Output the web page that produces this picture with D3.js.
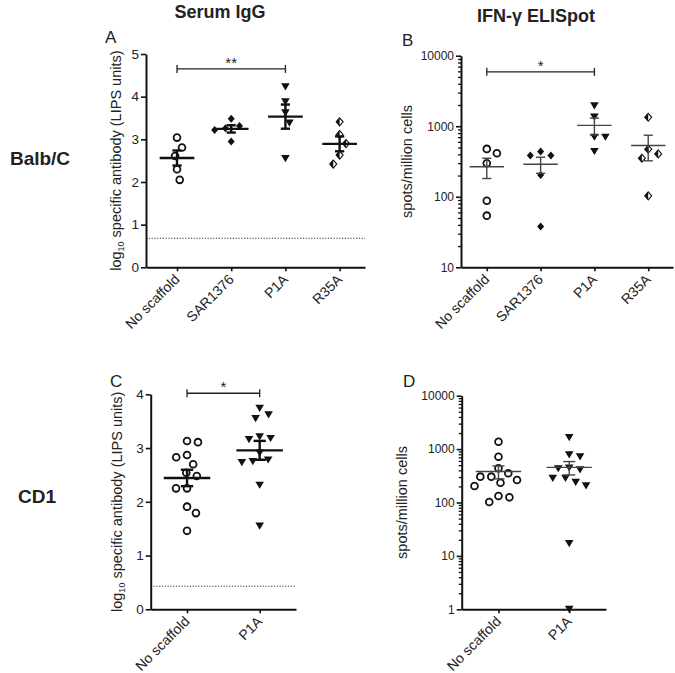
<!DOCTYPE html>
<html>
<head>
<meta charset="utf-8">
<script src="https://cdn.jsdelivr.net/npm/d3@7"></script>
<style>
  body { margin: 0; background: #fff; }
  text { font-family: "Liberation Sans", Arial, sans-serif; }
</style>
</head>
<body>
<script>
// groups on the x axis
var topGroups = ["No scaffold", "SAR1376", "P1A", "R35A"];
var bottomGroups = ["No scaffold", "P1A"];

// A - Balb/C serum IgG (log10 LIPS units)
var balbIgGNoScaffold = [3.04, 2.81, 2.61, 2.30, 2.05];
var balbIgGSar1376 = [3.31, 2.95, 3.26, 3.22, 3.48];
var balbIgGP1A = [4.23, 3.88, 3.62, 3.38, 2.55];
var balbIgGR35A = [3.41, 3.11, 2.90, 2.63, 2.42];

// B - Balb/C IFN-g ELISpot (spots/million cells)
var balbSpotsNoScaffold = [477, 414, 299, 88, 54];
var balbSpotsSar1376 = [437, 384, 384, 204, 38];
var balbSpotsP1A = [1950, 1350, 700, 700, 440];
var balbSpotsR35A = [1340, 405, 472, 352, 103];

// C - CD1 serum IgG
var cd1IgGNoScaffold = [3.13, 3.11, 2.87, 2.83, 2.70, 2.54, 2.48, 2.25, 2.25, 1.91, 1.79, 1.46];
var cd1IgGP1A = [3.74, 3.62, 3.55, 3.21, 3.18, 3.16, 2.91, 2.78, 2.75, 2.73, 2.31, 1.55];

// D - CD1 IFN-g ELISpot
var cd1SpotsNoScaffold = [1377, 721, 437, 352, 305, 305, 264, 235, 204, 132, 125, 102];
var cd1SpotsP1A = [1650, 720, 780, 430, 410, 445, 285, 205, 240, 285, 17, 1];

// axis ticks
var ticksA = [0, 1, 2, 3, 4, 5];
var ticksB = [10, 100, 1000, 10000];
var ticksC = [0, 1, 2, 3, 4];
var ticksD = [1, 10, 100, 1000, 10000];

// detection cut-off (dotted lines)
var cutoffA = 0.68;
var cutoffC = 0.43;

// significance brackets: from, to, height, label
var sigA = ["No scaffold", "P1A", 4.65, "**"];
var sigB = ["No scaffold", "P1A", 5900, "*"];
var sigC = ["No scaffold", "P1A", 4.02, "*"];

var markerFor = {"No scaffold": "circle", "SAR1376": "diamond", "P1A": "triangle", "R35A": "halfDiamond"};

var svg = d3.select("body").append("svg")
    .attr("width", 675)
    .attr("height", 673);

// simple beeswarm: smallest horizontal offset that doesn't hit placed points
function swarm(ys, d) {
  var order = d3.range(ys.length).sort(function(a, b) { return ys[a] - ys[b]; });
  var xs = new Array(ys.length);
  var placed = [];
  var flip = 1;
  order.forEach(function(i) {
    var blocked = [];
    placed.forEach(function(j) {
      var dy = Math.abs(ys[i] - ys[j]);
      if (dy < d) {
        var w = Math.sqrt(d * d - dy * dy);
        blocked.push([xs[j] - w, xs[j] + w]);
      }
    });
    var cands = [0];
    blocked.forEach(function(b) { cands.push(b[0], b[1]); });
    var ok = cands.filter(function(c) {
      return blocked.every(function(b) { return c <= b[0] + 1e-6 || c >= b[1] - 1e-6; });
    });
    var best = d3.min(ok, function(c) { return Math.abs(c); });
    var near = ok.filter(function(c) { return Math.abs(c) - best < 0.5; });
    var pick = near.find(function(c) { return c * flip > 0; });
    if (pick === undefined) pick = near[0];
    else flip = -flip;
    xs[i] = pick;
    placed.push(i);
  });
  return xs;
}

function drawMarker(g, kind, cx, cy) {
  if (kind == "circle") {
    g.append("circle").attr("cx", cx).attr("cy", cy).attr("r", 3.4)
      .attr("fill", "#fff").attr("stroke", "#111").attr("stroke-width", 1.8);
  } else if (kind == "diamond") {
    g.append("path").attr("d", "M0,-4L3.5,0L0,4L-3.5,0Z")
      .attr("transform", `translate(${cx},${cy})`).attr("fill", "#111");
  } else if (kind == "triangle") {
    g.append("path").attr("d", "M-4.3,-3.5L4.3,-3.5L0,3.7Z")
      .attr("transform", `translate(${cx},${cy})`).attr("fill", "#111");
  } else {
    var m = g.append("g").attr("transform", `translate(${cx},${cy})`);
    m.append("path").attr("d", "M0,-4L3.5,0L0,4L-3.5,0Z")
      .attr("fill", "#fff").attr("stroke", "#111").attr("stroke-width", 1.1);
    m.append("path").attr("d", "M0,-4L-3.5,0L0,4Z").attr("fill", "#111");
  }
}

function drawPanel(p) {
  var g = svg.append("g");

  var x = d3.scalePoint()
    .domain(p.cats)
    .range([p.left, p.right])
    .padding(p.pad)
    .align(p.align);
  var step = x.step();

  var y = (p.log ? d3.scaleLog() : d3.scaleLinear())
    .domain(p.domain)
    .range([p.bottom, p.top]);

  if (p.cutoff != null) {
    g.append("line")
      .attr("x1", p.left).attr("x2", p.right)
      .attr("y1", y(p.cutoff)).attr("y2", y(p.cutoff))
      .attr("stroke", "#333").attr("stroke-width", 1)
      .attr("stroke-dasharray", "1.2,1.6");
  }

  // y axis
  if (p.log) {
    var minor = [];
    for (var k = 0; k < p.ticks.length - 1; k++) {
      for (var m = 2; m < 10; m++) minor.push(p.ticks[k] * m);
    }
    g.append("g")
      .attr("transform", `translate(${p.left},0)`)
      .call(d3.axisLeft(y).tickValues(minor).tickSize(3).tickSizeOuter(0).tickFormat(""))
      .call(function(a) { a.select(".domain").remove(); })
      .selectAll(".tick line").attr("stroke", "#111").attr("stroke-width", 1.3);
  }
  var ya = g.append("g")
    .attr("transform", `translate(${p.left},0)`)
    .call(d3.axisLeft(y).tickValues(p.ticks).tickSize(5).tickSizeOuter(0)
      .tickPadding(2).tickFormat(d3.format("d")));
  ya.select(".domain").attr("stroke", "#111").attr("stroke-width", 2);
  ya.selectAll(".tick line").attr("stroke", "#111").attr("stroke-width", 1.6);
  ya.selectAll("text")
    .attr("font-family", "Liberation Sans, Arial, sans-serif")
    .attr("font-size", p.tickFont).attr("fill", "#222");

  // x axis
  var xa = g.append("g")
    .attr("transform", `translate(0,${p.bottom})`)
    .call(d3.axisBottom(x).tickSize(4).tickSizeOuter(0));
  xa.select(".domain").attr("stroke", "#111").attr("stroke-width", 2);
  xa.selectAll(".tick line").attr("stroke", "#111").attr("stroke-width", 1.6);
  xa.selectAll("text")
    .attr("x", 0).attr("y", 0).attr("dy", 0)
    .attr("transform", "translate(3,13) rotate(-45)")
    .style("text-anchor", "end")
    .attr("font-family", "Liberation Sans, Arial, sans-serif")
    .attr("font-size", 14).attr("fill", "#222");

  // y title
  var yt = g.append("text")
    .attr("transform", `translate(${p.titleX},${(p.top + p.bottom) / 2}) rotate(-90)`)
    .attr("text-anchor", "middle")
    .attr("font-size", 14.5)
    .attr("fill", "#222");
  if (p.log) {
    yt.text("spots/million cells");
  } else {
    yt.append("tspan").text("log");
    yt.append("tspan").attr("font-size", 9).attr("dy", 3).text("10");
    yt.append("tspan").attr("dy", -3).text(" specific antibody (LIPS units)");
  }

  // points + mean +/- sem
  p.cats.forEach(function(cat, i) {
    var vals = p.data[i];
    var cx = x(cat);
    var ys = vals.map(function(v) { return y(v); });
    var offs = swarm(ys, 11);
    vals.forEach(function(v, j) {
      drawMarker(g, markerFor[cat], cx + offs[j], ys[j]);
    });

    var mean = d3.mean(vals);
    var sem = d3.deviation(vals) / Math.sqrt(vals.length);
    var lw = p.log ? 1.4 : 2.4;
    var col = p.log ? "#444" : "#111";
    var meanW = step * 0.64 / 2;
    var capW = step * 0.085;
    var err = g.append("g").attr("stroke", col).attr("stroke-width", lw);
    err.append("line")
      .attr("x1", cx - meanW).attr("x2", cx + meanW)
      .attr("y1", y(mean)).attr("y2", y(mean));
    err.append("line")
      .attr("x1", cx).attr("x2", cx)
      .attr("y1", y(mean - sem)).attr("y2", y(mean + sem));
    [mean - sem, mean + sem].forEach(function(e) {
      err.append("line")
        .attr("x1", cx - capW).attr("x2", cx + capW)
        .attr("y1", y(e)).attr("y2", y(e));
    });
  });

  // significance bracket
  if (p.sig) {
    var sy = y(p.sig[2]);
    var x1 = x(p.sig[0]), x2 = x(p.sig[1]);
    var s = g.append("g").attr("stroke", "#222").attr("stroke-width", 1.3);
    s.append("line").attr("x1", x1).attr("x2", x2).attr("y1", sy).attr("y2", sy);
    s.append("line").attr("x1", x1).attr("x2", x1).attr("y1", sy - 4).attr("y2", sy + 4);
    s.append("line").attr("x1", x2).attr("x2", x2).attr("y1", sy - 4).attr("y2", sy + 4);
    g.append("text")
      .attr("x", (x1 + x2) / 2).attr("y", sy - 1)
      .attr("text-anchor", "middle")
      .attr("font-size", 15)
      .attr("fill", "#222")
      .text(p.sig[3]);
  }

  g.append("text")
    .attr("x", p.letterX).attr("y", p.letterY)
    .attr("font-size", 17)
    .attr("fill", "#222")
    .text(p.letter);
}

drawPanel({
  letter: "A", letterX: 105, letterY: 43,
  cats: topGroups,
  data: [balbIgGNoScaffold, balbIgGSar1376, balbIgGP1A, balbIgGR35A],
  log: false, domain: [0, 5], ticks: ticksA, cutoff: cutoffA, sig: sigA,
  left: 146, right: 365, top: 54, bottom: 267.3, pad: 0.52, align: 0.55,
  titleX: 121, tickFont: 13.5
});

drawPanel({
  letter: "B", letterX: 402, letterY: 46,
  cats: topGroups,
  data: [balbSpotsNoScaffold, balbSpotsSar1376, balbSpotsP1A, balbSpotsR35A],
  log: true, domain: [10, 10000], ticks: ticksB, cutoff: null, sig: sigB,
  left: 461, right: 673, top: 55.7, bottom: 267.3, pad: 0.47, align: 0.51,
  titleX: 412, tickFont: 12
});

drawPanel({
  letter: "C", letterX: 110, letterY: 387,
  cats: bottomGroups,
  data: [cd1IgGNoScaffold, cd1IgGP1A],
  log: false, domain: [0, 4], ticks: ticksC, cutoff: cutoffC, sig: sigC,
  left: 150.7, right: 296, top: 394.3, bottom: 609.3, pad: 0.5, align: 0.5,
  titleX: 122, tickFont: 13.5
});

drawPanel({
  letter: "D", letterX: 403, letterY: 387,
  cats: bottomGroups,
  data: [cd1SpotsNoScaffold, cd1SpotsP1A],
  log: true, domain: [1, 10000], ticks: ticksD, cutoff: null, sig: null,
  left: 461.7, right: 606, top: 395.7, bottom: 609.3, pad: 0.52, align: 0.5,
  titleX: 407, tickFont: 12
});

// column and row headings
svg.append("text")
  .attr("x", 220).attr("y", 18)
  .attr("text-anchor", "middle")
  .attr("font-size", 18).attr("font-weight", "bold").attr("fill", "#222")
  .text("Serum IgG");

svg.append("text")
  .attr("x", 536).attr("y", 22)
  .attr("text-anchor", "middle")
  .attr("font-size", 18).attr("font-weight", "bold").attr("fill", "#222")
  .text("IFN-γ ELISpot");

svg.append("text")
  .attr("x", 40).attr("y", 165)
  .attr("text-anchor", "middle")
  .attr("font-size", 19).attr("font-weight", "bold").attr("fill", "#222")
  .text("Balb/C");

svg.append("text")
  .attr("x", 37).attr("y", 503)
  .attr("text-anchor", "middle")
  .attr("font-size", 19).attr("font-weight", "bold").attr("fill", "#222")
  .text("CD1");
</script>
</body>
</html>
